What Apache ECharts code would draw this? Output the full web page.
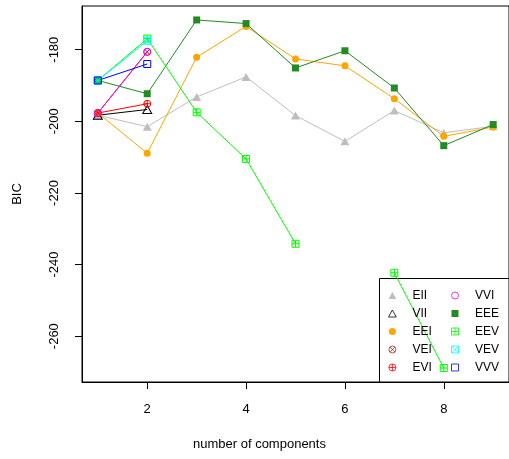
<!DOCTYPE html>
<html>
<head>
<meta charset="utf-8">
<script src="https://cdn.jsdelivr.net/npm/echarts@6/dist/echarts.min.js"></script>
<style>html,body{margin:0;padding:0;background:#fff}#c{width:509px;height:459px}</style>
</head>
<body>
<div id="c"></div>
<script>
const components = [1, 2, 3, 4, 5, 6, 7, 8, 9];
const xTicks = [2, 4, 6, 8];
const yTicks = [-260, -240, -220, -200, -180];
const modelNames = ['EII', 'VII', 'EEI', 'VEI', 'EVI', 'VVI', 'EEE', 'EEV', 'VEV', 'VVV'];
const EII = [-198.3, -201.5, -193.2, -187.6, -198.4, -205.6, -197.0, -203.2, -201.4];
const VII = [-198.3, -196.7];
const EEI = [-197.7, -208.9, -182.1, -173.5, -182.6, -184.5, -193.7, -204.2, -201.6];
const VEI = [-197.7, -180.6];
const EVI = [-197.7, -195.1];
const VVI = [-197.7, -180.6];
const EEE = [-188.6, -192.3, -171.7, -172.7, -185.1, -180.3, -190.7, -206.8, -200.9];
const EEV = [-188.6, -176.9, -197.5, -210.5, -234.2, null, -242.3, -268.9, null];
const VEV = [-188.6, -177.5];
const VVV = [-188.6, -184.0];
const values = { EII, VII, EEI, VEI, EVI, VVI, EEE, EEV, VEV, VVV };

const circ = 'M10,5A5,5 0 1,1 0,5A5,5 0 1,1 10,5Z';
const sq = 'M0,0H10V10H0Z';
const tri = 'M5,0L10,9L0,9Z';
const styles = {
  EII: { color: '#BEBEBE', symbol: 'path://' + tri, size: [9, 8], fill: true },
  VII: { color: '#000000', symbol: 'path://' + tri, size: [9, 8], fill: false },
  EEI: { color: '#FFA500', symbol: 'path://' + circ, size: 7, fill: true },
  VEI: { color: '#A52A2A', symbol: 'path://' + circ + 'M1.5,1.5L8.5,8.5M8.5,1.5L1.5,8.5', size: 7, fill: false },
  EVI: { color: '#FF0000', symbol: 'path://' + circ + 'M5,0V10M0,5H10', size: 7, fill: false },
  VVI: { color: '#FF00FF', symbol: 'path://' + circ, size: 7, fill: false },
  EEE: { color: '#228B22', symbol: 'path://' + sq, size: 7, fill: true },
  EEV: { color: '#00FF00', symbol: 'path://' + sq + 'M5,0V10M0,5H10', size: 7, fill: false },
  VEV: { color: '#00FFFF', symbol: 'path://' + sq + 'M0,0L10,10M10,0L0,10', size: 7, fill: false },
  VVV: { color: '#0000FF', symbol: 'path://' + sq, size: 7, fill: false }
};

const series = modelNames.map(function (name) {
  const st = styles[name];
  const arr = values[name];
  return {
    name: name,
    type: 'line',
    data: arr.map(function (v, i) { return [components[i], v == null ? '-' : v]; }),
    symbol: st.symbol,
    symbolSize: st.size,
    showAllSymbol: true,
    lineStyle: { color: st.color, width: 1 },
    itemStyle: st.fill ? { color: st.color, borderWidth: 0 } : { color: 'none', borderColor: st.color, borderWidth: 1 },
    emphasis: { disabled: true },
    animation: false,
    silent: true
  };
});

const font = 'Liberation Sans, Arial, sans-serif';
function legendFor(names, left) {
  return {
    orient: 'vertical',
    left: left,
    top: 284,
    itemWidth: 30,
    itemHeight: 7,
    itemGap: 5,
    selectedMode: false,
    itemStyle: { borderWidth: 0.8 },
    textStyle: { fontFamily: font, fontSize: 12, color: '#000', lineHeight: 13 },
    data: names.map(function (n) { return { name: n, icon: styles[n].symbol }; })
  };
}

const chart = echarts.init(document.getElementById('c'), null, { renderer: 'canvas' });
chart.setOption({
  animation: false,
  backgroundColor: '#fff',
  grid: { left: 82, top: 6, width: 430, bottom: 77, show: true, borderColor: '#000', borderWidth: 1, backgroundColor: 'transparent' },
  xAxis: {
    type: 'value', min: 0.68, max: 9.32,
    splitLine: { show: false },
    axisLine: { show: true, lineStyle: { color: '#000' } },
    axisTick: { show: true, length: 7, customValues: xTicks, lineStyle: { color: '#000' } },
    axisLabel: { customValues: xTicks, margin: 21, fontFamily: font, fontSize: 13, color: '#000' }
  },
  yAxis: {
    type: 'value', min: -272.8, max: -167.8,
    name: 'BIC', nameLocation: 'middle', nameRotate: 90, nameGap: 58,
    nameTextStyle: { fontFamily: font, fontSize: 13, color: '#000' },
    splitLine: { show: false },
    axisLine: { show: true, lineStyle: { color: '#000' } },
    axisTick: { show: true, length: 7, customValues: yTicks, lineStyle: { color: '#000' } },
    axisLabel: { customValues: yTicks, rotate: 90, margin: 21, fontFamily: font, fontSize: 13, color: '#000' }
  },
  legend: [
    legendFor(['EII', 'VII', 'EEI', 'VEI', 'EVI'], 381),
    legendFor(['VVI', 'EEE', 'EEV', 'VEV', 'VVV'], 444)
  ],
  graphic: [
    { type: 'rect', z: 0, silent: true, shape: { x: 379.5, y: 278.5, width: 140, height: 104 }, style: { fill: 'none', stroke: '#000', lineWidth: 1 } },
    { type: 'text', left: 193, top: 438, silent: true, style: { text: 'number of components', font: '13px Liberation Sans, Arial, sans-serif', fill: '#000' } }
  ],
  series: series
});
</script>
</body>
</html>
